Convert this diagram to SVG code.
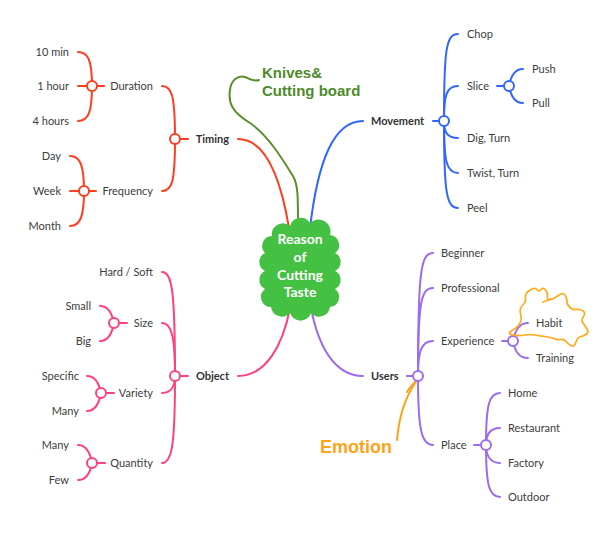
<svg xmlns="http://www.w3.org/2000/svg" width="600" height="536" viewBox="0 0 600 536">
<style>
.t{font-family:Lato,"Noto Sans","DejaVu Sans",sans-serif;font-size:11px;fill:#3c3c3c}
.e{text-anchor:end}
.b{font-weight:bold;fill:#333}
.c{fill:none;stroke-width:2;stroke-linecap:round}
.r{stroke:#FF3D1F}.bl{stroke:#3366FF}.p{stroke:#FF4081}.u{stroke:#9B6BF0}
.j{fill:#fff;stroke-width:2}
.ct{font-family:Lato,"Noto Sans",sans-serif;font-weight:bold;font-size:14px;fill:#fff;text-anchor:middle}
.big{font-family:"Liberation Sans",Arial,sans-serif;font-weight:bold}
</style>
<rect width="600" height="536" fill="#fff"/>
<g id="connectors">
  <path class="c" stroke="#5A8F2E" stroke-width="1.8" d="M259,80 C254,82 250,79 245,77 C238,75 231,80 230,90 C228,103 232,112 250,123 C268,135 283,160 293,176 C298,185 298,195 298,226"/>
  <g class="c r">
    <path d="M238,139 C266,139 281,180 289,228"/>
    <path d="M180,139 H188"/>
    <path d="M175,139 C175,96 172,86 162,86"/>
    <path d="M175,139 C175,182 172,191 162,191"/>
    <path d="M97,86 H104"/>
    <path d="M92,86 C92,60 88,52 78,52"/>
    <path d="M92,86 H78"/>
    <path d="M92,86 C92,113 88,121 78,121"/>
    <path d="M89,191 H96"/>
    <path d="M84,191 C84,165 80,156 70,156"/>
    <path d="M84,191 H70"/>
    <path d="M84,191 C84,217 80,226 70,226"/>
  </g>
  <g class="c bl">
    <path d="M363,121 C334,121 318,160 310,228"/>
    <path d="M433,121 H439"/>
    <path d="M444,121 C444,50 446,34 458,34"/>
    <path d="M444,121 C444,96 446,86 458,86"/>
    <path d="M444,121 C444,132 447,138 458,138"/>
    <path d="M444,121 C444,160 446,173 458,173"/>
    <path d="M444,121 C444,190 446,208 458,208"/>
    <path d="M497,86 H504"/>
    <path d="M509,86 C511,75 515,69 523,69"/>
    <path d="M509,86 C511,97 515,103 523,103"/>
  </g>
  <g class="c p">
    <path d="M238,376 C266,376 283,345 290,308"/>
    <path d="M180,376 H188"/>
    <path d="M175,376 C175,290 172,272 162,272"/>
    <path d="M175,376 C175,338 172,323 162,323"/>
    <path d="M175,376 C175,386 171,393 162,393"/>
    <path d="M175,376 C175,445 172,463 162,463"/>
    <path d="M119,323 H127"/>
    <path d="M114,323 C112,313 108,306 100,306"/>
    <path d="M114,323 C112,334 108,341 100,341"/>
    <path d="M106,393 H114"/>
    <path d="M101,393 C99,383 95,376 87,376"/>
    <path d="M101,393 C99,404 95,411 87,411"/>
    <path d="M97,463 H105"/>
    <path d="M92,463 C90,452 86,445 78,445"/>
    <path d="M92,463 C90,474 86,480 78,480"/>
  </g>
  <g class="c u">
    <path d="M363,376 C334,376 318,345 311,308"/>
    <path d="M407,376 H413"/>
    <path d="M418,376 C418,270 421,253 433,253"/>
    <path d="M418,376 C418,303 421,288 433,288"/>
    <path d="M418,376 C418,352 421,341 433,341"/>
    <path d="M418,376 C418,428 421,445 433,445"/>
    <path d="M502,341 H508"/>
    <path d="M513,341 C515,330 519,323 528,323"/>
    <path d="M513,341 C515,352 519,358 528,358"/>
    <path d="M474,445 H481"/>
    <path d="M486,445 C486,405 489,393 500,393"/>
    <path d="M486,445 C486,435 490,428 500,428"/>
    <path d="M486,445 C486,455 490,463 500,463"/>
    <path d="M486,445 C486,485 489,497 500,497"/>
  </g>
  <path class="c" stroke="#FFA31A" stroke-width="1.8" d="M397,440 C399,420 403,400 417,380"/>
  <path class="c" stroke="#FFA31A" stroke-width="3" d="M407,392 C410,387 413,384 417,380"/>
  <g class="j" stroke="#FF3D1F"><circle cx="175" cy="139" r="5"/><circle cx="92" cy="86" r="5"/><circle cx="84" cy="191" r="5"/></g>
  <g class="j" stroke="#3366FF"><circle cx="444" cy="121" r="5"/><circle cx="509" cy="86" r="5"/></g>
  <g class="j" stroke="#FF4081"><circle cx="175" cy="376" r="5"/><circle cx="114" cy="323" r="5"/><circle cx="101" cy="393" r="5"/><circle cx="92" cy="463" r="5"/></g>
  <g class="j" stroke="#9B6BF0"><circle cx="418" cy="376" r="5"/><circle cx="513" cy="341" r="5"/><circle cx="486" cy="445" r="5"/></g>
</g>
<g id="center">
  <path fill="#44C043" d="M272,236 A11,11 0 0 1 290,226 A11,11 0 0 1 310,223 A12,12 0 0 1 330,235 A10,10 0 0 1 335,253 A10,10 0 0 1 335,271 A10,10 0 0 1 335,289 A10,10 0 0 1 330,307 A11,11 0 0 1 311,313 A11,11 0 0 1 290,313 A11,11 0 0 1 271,307 A10,10 0 0 1 265,289 A10,10 0 0 1 265,271 A10,10 0 0 1 265,253 A10,10 0 0 1 272,236 Z"/>
  <text class="ct" x="300" y="244">Reason</text>
  <text class="ct" x="300" y="262">of</text>
  <text class="ct" x="300" y="280">Cutting</text>
  <text class="ct" x="300" y="297">Taste</text>
</g>
<g id="knives"><text class="big" font-size="15" fill="#4E8A2A" x="262" y="78">Knives&amp;</text><text class="big" font-size="15" fill="#4E8A2A" x="262" y="96">Cutting board</text></g>
<g id="emotion"><text class="big" font-size="18" fill="#FFA31A" x="320" y="453">Emotion</text></g>
<g id="habit-mark" fill="none" stroke="#FFAB1C" stroke-width="1.7" stroke-linejoin="round" stroke-linecap="round">
  <path d="M510,334 Q508,333 513.5,329.5 Q519,326 520.5,322 Q522,318 520.5,313.5 Q519,309 522.5,305.5 Q526,302 525.5,298 Q525,294 528,291.5 Q531,289 533.5,288.5 Q536,288 537.5,290 Q539,292 541,289.5 Q543,287 545.5,290 Q548,293 547.5,297 Q547,301 551,299.5 Q555,298 559,295 Q563,292 565,295 Q567,298 567,301.5 Q567,305 570,307.5 Q573,310 576.5,309.5 Q580,309 583,311 Q586,313 583.5,316.5 Q581,320 583,323 Q585,326 587,329 Q589,332 586.5,334 Q584,336 581,336.5 Q578,337 577,339.5 Q576,342 575,344.5 Q574,347 571,345.5 Q568,344 566,341.5 Q564,339 560.5,339.5 Q557,340 553.5,338.5 Q550,337 545,336.5 Q540,336 535,335 Q530,334 525,335 Q520,336 516,335.5 Q512,335 510,334 Z"/>
  <path d="M543,302 L551,299"/>
</g>
<g id="timing"><text class="t b e" x="229" y="143">Timing</text></g>
<g id="duration"><text class="t e" x="153" y="90">Duration</text></g>
<g id="n10min"><text class="t e" x="69" y="56">10 min</text></g>
<g id="n1hour"><text class="t e" x="69" y="90">1 hour</text></g>
<g id="n4hours"><text class="t e" x="69" y="125">4 hours</text></g>
<g id="frequency"><text class="t e" x="153" y="195">Frequency</text></g>
<g id="day"><text class="t e" x="61" y="160">Day</text></g>
<g id="week"><text class="t e" x="61" y="195">Week</text></g>
<g id="month"><text class="t e" x="61" y="230">Month</text></g>
<g id="movement"><text class="t b" x="371" y="125">Movement</text></g>
<g id="chop"><text class="t" x="467" y="38">Chop</text></g>
<g id="slice"><text class="t" x="467" y="90">Slice</text></g>
<g id="push"><text class="t" x="532" y="73">Push</text></g>
<g id="pull"><text class="t" x="532" y="107">Pull</text></g>
<g id="digturn"><text class="t" x="467" y="142">Dig, Turn</text></g>
<g id="twistturn"><text class="t" x="467" y="177">Twist, Turn</text></g>
<g id="peel"><text class="t" x="467" y="212">Peel</text></g>
<g id="object"><text class="t b e" x="229" y="380">Object</text></g>
<g id="hardsoft"><text class="t e" x="153" y="276">Hard / Soft</text></g>
<g id="size"><text class="t e" x="153" y="327">Size</text></g>
<g id="small"><text class="t e" x="91" y="310">Small</text></g>
<g id="bigsize"><text class="t e" x="91" y="345">Big</text></g>
<g id="variety"><text class="t e" x="153" y="397">Variety</text></g>
<g id="specific"><text class="t e" x="79" y="380">Specific</text></g>
<g id="many1"><text class="t e" x="79" y="415">Many</text></g>
<g id="quantity"><text class="t e" x="153" y="467">Quantity</text></g>
<g id="many2"><text class="t e" x="69" y="449">Many</text></g>
<g id="few"><text class="t e" x="69" y="484">Few</text></g>
<g id="users"><text class="t b" x="371" y="380">Users</text></g>
<g id="beginner"><text class="t" x="441" y="257">Beginner</text></g>
<g id="professional"><text class="t" x="441" y="292">Professional</text></g>
<g id="experience"><text class="t" x="441" y="345">Experience</text></g>
<g id="habit"><text class="t" x="536" y="327">Habit</text></g>
<g id="training"><text class="t" x="536" y="362">Training</text></g>
<g id="place"><text class="t" x="441" y="449">Place</text></g>
<g id="home"><text class="t" x="508" y="397">Home</text></g>
<g id="restaurant"><text class="t" x="508" y="432">Restaurant</text></g>
<g id="factory"><text class="t" x="508" y="467">Factory</text></g>
<g id="outdoor"><text class="t" x="508" y="501">Outdoor</text></g>
</svg>
